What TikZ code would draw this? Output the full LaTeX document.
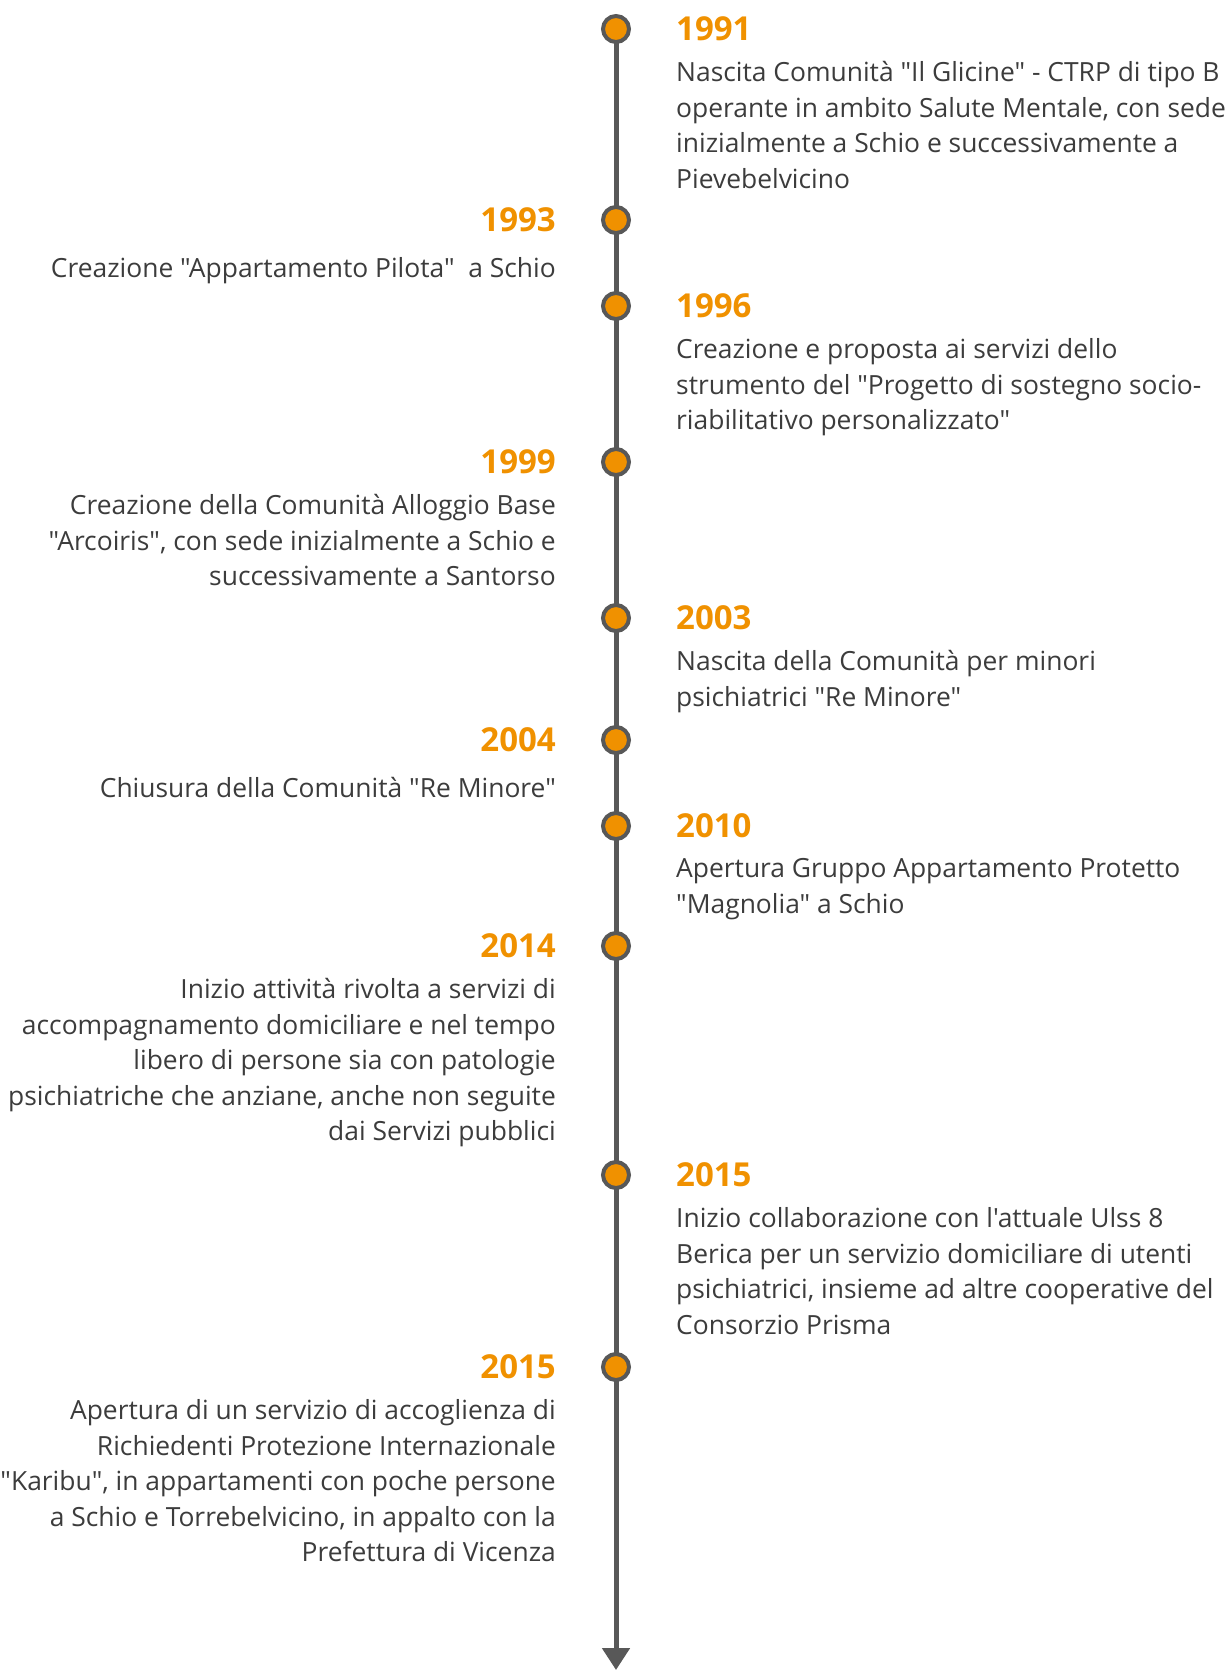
\documentclass[tikz,border=0pt]{standalone}
\usepackage{fontspec}
\setmainfont{Open Sans}[Ligatures=TeXOff]
\usetikzlibrary{positioning,arrows.meta}
\definecolor{tlorange}{RGB}{240,145,0}
\definecolor{tlgray}{RGB}{88,88,88}
\definecolor{tltext}{RGB}{60,60,60}

\begin{document}
\begin{tikzpicture}[
  x=1pt, y=-1pt,
  node distance=45pt,
  dot/.style={circle, draw=tlgray, line width=4pt, fill=tlorange, minimum size=26pt, inner sep=0pt},
  year/.style={font=\fontsize{33}{38}\selectfont\bfseries, text=tlorange, inner sep=0pt},
  descr/.style={font=\fontsize{26.4}{35.5}\selectfont, text=tltext, inner sep=0pt, execute at begin node=\strut},
  axis/.style={draw=tlgray, line width=5pt},
]
  \useasboundingbox (0,0) rectangle (1224,1670);

  \coordinate (top) at (616,29);
  \coordinate (tip) at (616,1670);
  \draw[axis, -{Triangle[width=27pt,length=22pt]}] (top) -- (tip);

  \node[dot] (d1991) at (616,29) {};
  \node[dot] (d1993) at (616,220) {};
  \node[dot] (d1996) at (616,306) {};
  \node[dot] (d1999) at (616,462) {};
  \node[dot] (d2003) at (616,618) {};
  \node[dot] (d2004) at (616,740) {};
  \node[dot] (d2010) at (616,826) {};
  \node[dot] (d2014) at (616,946) {};
  \node[dot] (d2015a) at (616,1175) {};
  \node[dot] (d2015b) at (616,1367) {};

  \node[year, right=of d1991] (y1991) {1991};
  \node[year, left=of d1993] (y1993) {1993};
  \node[year, right=of d1996] (y1996) {1996};
  \node[year, left=of d1999] (y1999) {1999};
  \node[year, right=of d2003] (y2003) {2003};
  \node[year, left=of d2004] (y2004) {2004};
  \node[year, right=of d2010] (y2010) {2010};
  \node[year, left=of d2014] (y2014) {2014};
  \node[year, right=of d2015a] (y2015a) {2015};
  \node[year, left=of d2015b] (y2015b) {2015};

  \node[descr, align=left, below right=20pt and 0pt of y1991.south west] (t1991)
    {Nascita Comunità "Il Glicine" - CTRP di tipo B\\operante in ambito Salute Mentale, con sede\\inizialmente a Schio e successivamente a\\Pievebelvicino};
  \node[descr, align=right, below left=20pt and 0pt of y1993.south east] (t1993)
    {Creazione "Appartamento Pilota"\ \ a Schio};
  \node[descr, align=left, below right=20pt and 0pt of y1996.south west] (t1996)
    {Creazione e proposta ai servizi dello\\strumento del "Progetto di sostegno socio-\\riabilitativo personalizzato"};
  \node[descr, align=right, below left=20pt and 0pt of y1999.south east] (t1999)
    {Creazione della Comunità Alloggio Base\\"Arcoiris", con sede inizialmente a Schio e\\successivamente a Santorso};
  \node[descr, align=left, below right=20pt and 0pt of y2003.south west] (t2003)
    {Nascita della Comunità per minori\\psichiatrici "Re Minore"};
  \node[descr, align=right, below left=20pt and 0pt of y2004.south east] (t2004)
    {Chiusura della Comunità "Re Minore"};
  \node[descr, align=left, below right=20pt and 0pt of y2010.south west] (t2010)
    {Apertura Gruppo Appartamento Protetto\\"Magnolia" a Schio};
  \node[descr, align=right, below left=20pt and 0pt of y2014.south east] (t2014)
    {Inizio attività rivolta a servizi di\\accompagnamento domiciliare e nel tempo\\libero di persone sia con patologie\\psichiatriche che anziane, anche non seguite\\dai Servizi pubblici};
  \node[descr, align=left, below right=20pt and 0pt of y2015a.south west] (t2015a)
    {Inizio collaborazione con l'attuale Ulss 8\\Berica per un servizio domiciliare di utenti\\psichiatrici, insieme ad altre cooperative del\\Consorzio Prisma};
  \node[descr, align=right, below left=20pt and 0pt of y2015b.south east] (t2015b)
    {Apertura di un servizio di accoglienza di\\Richiedenti Protezione Internazionale\\"Karibu", in appartamenti con poche persone\\a Schio e Torrebelvicino, in appalto con la\\Prefettura di Vicenza};
\end{tikzpicture}
\end{document}
